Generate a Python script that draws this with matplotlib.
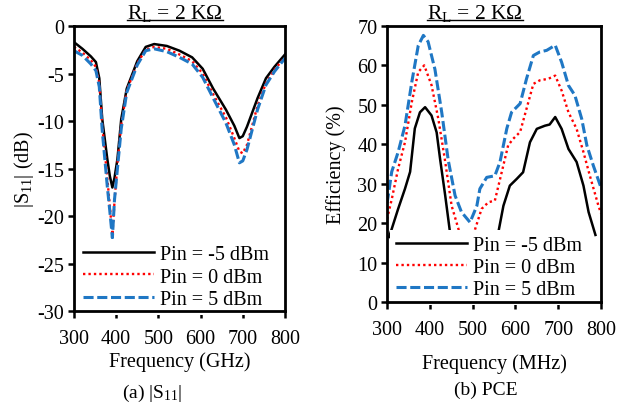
import numpy as np
import matplotlib
matplotlib.use('Agg')
import matplotlib.pyplot as plt
from matplotlib.lines import Line2D

plt.rcParams['font.family'] = ['Liberation Serif', 'DejaVu Serif']
plt.rcParams['mathtext.fontset'] = 'custom'
plt.rcParams['mathtext.rm'] = 'Liberation Serif'
plt.rcParams['mathtext.it'] = 'Liberation Serif:italic'
plt.rcParams['axes.unicode_minus'] = False

# |S11| (dB) vs frequency
freq_s = [300, 320, 340, 352, 360, 367, 379, 385, 391, 396, 403, 412, 425, 450, 470,
          490, 520, 550, 580, 605, 630, 660, 680, 692, 700, 710, 735, 755, 775, 800]
s11_m5 = [-1.7, -2.4, -3.2, -3.8, -5.5, -9.8, -14.0, -15.8, -17.0, -16.0, -14.0, -9.8, -6.6, -3.7, -2.2,
          -1.9, -2.1, -2.6, -3.3, -4.5, -6.6, -8.8, -10.5, -11.8, -11.6, -10.6, -7.6, -5.5, -4.3, -3.0]
s11_0 = [-2.2, -2.8, -3.6, -4.3, -6.0, -10.5, -16.0, -19.0, -22.0, -18.5, -14.5, -10.4, -6.8, -3.9, -2.5,
         -2.2, -2.4, -3.0, -3.7, -5.0, -7.2, -9.6, -11.8, -13.2, -13.4, -12.5, -8.4, -6.0, -4.6, -3.3]
s11_5 = [-2.6, -3.1, -4.0, -4.7, -6.4, -11.0, -16.9, -19.5, -22.3, -18.3, -15.0, -10.8, -7.0, -4.1, -2.6,
         -2.4, -2.7, -3.3, -4.0, -5.4, -7.6, -10.2, -12.5, -14.4, -14.2, -13.0, -8.8, -6.2, -4.8, -3.4]

# PCE (%) vs frequency, nan = hidden behind legend
freq_m5 = [305, 311, 326, 342, 354, 365, 377, 389, 404, 416, 424, 436, 448, np.nan,
           559, 572, 587, 603, 618, 634, 650, 669, 680, 693, 708, 724, 743, 759, 771, 787]
pce_m5 = [16.5, 18.5, 23.6, 28.7, 33.0, 44.0, 48.1, 49.4, 47.3, 43.0, 36.3, 27.0, 17.0, np.nan,
          17.0, 24.4, 29.5, 31.2, 32.9, 40.5, 43.9, 44.7, 45.0, 46.9, 43.9, 38.8, 35.5, 29.5, 22.8, 17.0]
freq_0 = [300, 311, 326, 342, 358, 373, 387, 404, 420, 435, 451, 467, 470, np.nan,
          503, 506, 521, 537, 552, 568, 583, 595, 611, 626, 642, 657, 677, 693, 708, 724,
          743, 759, 774, 794, 800]
pce_0 = [21.0, 26.0, 33.8, 40.5, 50.7, 58.3, 60.0, 55.0, 46.4, 36.3, 24.4, 18.5, 17.0, np.nan,
         17.0, 18.5, 23.6, 25.3, 25.7, 32.9, 39.7, 41.4, 43.1, 49.0, 55.3, 56.2, 56.6, 57.4, 53.6, 48.1,
         43.9, 38.0, 32.0, 24.4, 22.5]
freq_5 = [300, 303, 311, 326, 342, 358, 373, 385, 396, 412, 428, 443, 459, 474, 494,
          510, 517, 533, 552, 564, 580, 591, 611, 626, 642, 657, 673, 693, 708, 724,
          739, 755, 767, 782, 800]
pce_5 = [25.0, 27.0, 33.0, 38.0, 44.7, 55.8, 65.0, 67.6, 66.0, 59.0, 48.0, 36.0, 27.0, 22.8, 20.2,
         24.4, 28.7, 31.6, 32.0, 35.5, 44.0, 48.1, 50.3, 56.6, 62.5, 63.4, 63.8, 65.1, 60.8, 54.9,
         52.4, 46.4, 39.7, 34.6, 29.0]

labels = ['Pin = -5 dBm', 'Pin = 0 dBm', 'Pin = 5 dBm']
styles = [dict(color='black', ls='-', lw=1.8),
          dict(color='#ff0000', ls=(0, (1, 1.3)), lw=1.7),
          dict(color='#1f77c4', ls=(0, (3.3, 1.2)), lw=2.2)]

FS = 14.5

fig = plt.figure(figsize=(6.18, 4.06), dpi=100)
ax1 = fig.add_axes([0.1197, 0.2315, 0.3414, 0.702])
ax2 = fig.add_axes([0.6262, 0.2537, 0.3463, 0.680])

for y, lab, st in zip([s11_m5, s11_0, s11_5], labels, styles):
    ax1.plot(freq_s, y, label=lab, **st)
for x, y, lab, st in zip([freq_m5, freq_0, freq_5], [pce_m5, pce_0, pce_5], labels, styles):
    ax2.plot(x, y, label=lab, **st)

ax1.set_xlim(300, 800)
ax1.set_ylim(-30, 0)
ax1.set_yticks(np.arange(-30, 1, 5))
ax2.set_xlim(300, 800)
ax2.set_ylim(0, 70)
ax2.set_yticks(np.arange(0, 71, 10))

for ax in (ax1, ax2):
    ax.set_xticks(np.arange(300, 801, 100))
    for s in ax.spines.values():
        s.set_linewidth(2.0)
    ax.tick_params(axis='x', direction='out', length=5, width=1.8, labelsize=FS, pad=8)
    ax.tick_params(axis='y', direction='out', length=4, width=1.8, labelsize=FS, pad=3)

leg1 = ax1.legend(loc='lower left', bbox_to_anchor=(0.015, -0.015), fontsize=FS,
                  handlelength=3.5, handletextpad=0.3, labelspacing=0.18,
                  borderpad=0.3, borderaxespad=0.0, frameon=True,
                  facecolor='white', edgecolor='none', framealpha=1, fancybox=False)
leg2 = ax2.legend(loc='lower left', bbox_to_anchor=(0.015, -0.01), fontsize=FS,
                  handlelength=3.5, handletextpad=0.3, labelspacing=0.14,
                  borderpad=0.3, borderaxespad=0.0, frameon=True,
                  facecolor='white', edgecolor='none', framealpha=1, fancybox=False)
# keep the legend box above the curves but under the frame
leg1.set_zorder(2.4)
leg2.set_zorder(2.4)

ax1.set_xlabel('Frequency (GHz)', fontsize=FS, labelpad=2)
ax1.set_ylabel('|S$_{11}$| (dB)', fontsize=FS, labelpad=1)
ax2.set_xlabel('Frequency (MHz)', fontsize=FS, labelpad=10)
ax2.set_ylabel('Efficiency (%)', fontsize=FS, labelpad=8)

t1 = ax1.set_title(r'R$_{\mathrm{L}}$ = 2 K' + '\u03a9', fontsize=15.5, pad=6, x=0.478)
t2 = ax2.set_title(r'R$_{\mathrm{L}}$ = 2 K' + '\u03a9', fontsize=15.5, pad=6, x=0.41)

fig.text(0.246, 0.032, '(a) |S$_{11}$|', ha='center', va='center', fontsize=14)
fig.text(0.786, 0.039, '(b) PCE', ha='center', va='center', fontsize=14)

# underline the titles
fig.canvas.draw()
r = fig.canvas.get_renderer()
for t in (t1, t2):
    bb = t.get_window_extent(r).transformed(fig.transFigure.inverted())
    fig.add_artist(Line2D([bb.x0, bb.x1], [bb.y0 + 0.006, bb.y0 + 0.006],
                          transform=fig.transFigure, color='black', lw=1.0))

fig.savefig('out.png', dpi=100)
